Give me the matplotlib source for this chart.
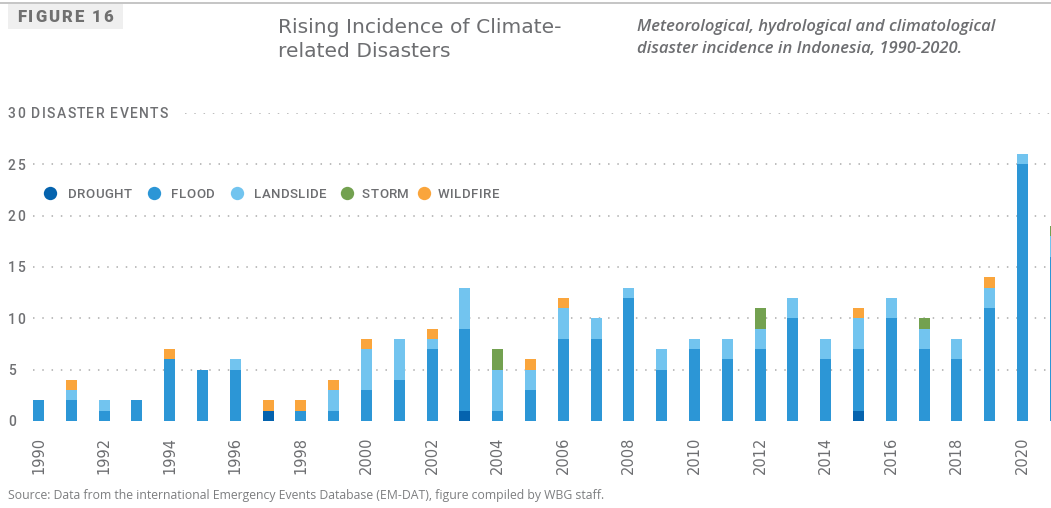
import matplotlib
matplotlib.use("Agg")
import matplotlib.pyplot as plt
from matplotlib.lines import Line2D
from matplotlib.patches import Rectangle
from matplotlib.font_manager import FontProperties, findfont
from matplotlib.ft2font import FT2Font, LoadFlags

# Disaster events per year, Indonesia (EM-DAT)
years = list(range(1990, 2022))
drought = [0, 0, 0, 0, 0, 0, 0, 1, 0, 0,
           0, 0, 0, 1, 0, 0, 0, 0, 0, 0,
           0, 0, 0, 0, 0, 1, 0, 0, 0, 0,
           0, 0]
flood = [2, 2, 1, 2, 6, 5, 5, 0, 1, 1,
         3, 4, 7, 8, 1, 3, 8, 8, 12, 5,
         7, 6, 7, 10, 6, 6, 10, 7, 6, 11,
         25, 16]
landslide = [0, 1, 1, 0, 0, 0, 1, 0, 0, 2,
             4, 4, 1, 4, 4, 2, 3, 2, 1, 2,
             1, 2, 2, 2, 2, 3, 2, 2, 2, 2,
             1, 2]
storm = [0, 0, 0, 0, 0, 0, 0, 0, 0, 0,
         0, 0, 0, 0, 2, 0, 0, 0, 0, 0,
         0, 0, 2, 0, 0, 0, 0, 1, 0, 0,
         0, 1]
wildfire = [0, 1, 0, 0, 1, 0, 0, 1, 1, 1,
            1, 0, 1, 0, 0, 1, 1, 0, 0, 0,
            0, 0, 0, 0, 0, 1, 0, 0, 0, 1,
            0, 0]

series_names = ["DROUGHT", "FLOOD", "LANDSLIDE", "STORM", "WILDFIRE"]
series_values = [drought, flood, landslide, storm, wildfire]
series_colors = ["#0563ae", "#2c96d6", "#72c4ef", "#73a150", "#faa53c"]

y_ticks = [0, 5, 10, 15, 20, 25, 30]
x_ticks = list(range(1990, 2021, 2))

W, H, DPI = 1051, 508, 100
TEXT = "#6d6e71"
GRID = "#bdbdbd"

fig = plt.figure(figsize=(W / DPI, H / DPI), dpi=DPI)
fig.patch.set_facecolor("white")


def fx(px):
    return px / W


def fy(py):
    return 1 - py / H


def tracked_text(x, y, s, size, track, family="Roboto", weight="normal",
                 style="normal", color=TEXT):
    """Draw s with extra letter spacing; x, y are pixel coords (y = baseline)."""
    prop = FontProperties(family=family, weight=weight, style=style, size=size)
    font = FT2Font(findfont(prop), hinting_factor=1)
    font.set_size(size, DPI)
    pos = x
    for ch in s:
        if ch != " ":
            fig.text(fx(pos), fy(y), ch, fontproperties=prop, color=color,
                     ha="left", va="baseline")
        g = font.load_char(ord(ch), flags=LoadFlags.NO_HINTING)
        pos += g.linearHoriAdvance / 65536 + track
    return pos


# plotting area: pixel x 33..1051, y 421 (value 0) .. 113 (value 30)
ax = fig.add_axes([fx(33), fy(421), fx(1051) - fx(33), fy(113) - fy(421)])
ax.set_xlim(1989.832, 2020.872)
ax.set_ylim(0, 30)
for sp in ax.spines.values():
    sp.set_visible(False)
ax.set_yticks([])

# dotted gridlines
for v in y_ticks[1:]:
    xmin = 0.149 if v == 30 else 0.0
    ax.axhline(v, xmin=xmin, xmax=1, color=GRID, lw=1.4,
               linestyle=(0, (0.77, 4.0)), dash_capstyle="butt", zorder=0)

# stacked bars
bottom = [0] * len(years)
for name, vals, col in zip(series_names, series_values, series_colors):
    ax.bar(years, vals, width=0.335, bottom=bottom, color=col,
           linewidth=0, zorder=2)
    bottom = [b + v for b, v in zip(bottom, vals)]

ax.set_xticks(x_ticks)
ax.set_xticklabels([str(y) for y in x_ticks], rotation=90,
                   fontfamily="DejaVu Sans", fontsize=10.5, color=TEXT)
ax.tick_params(axis="x", length=0, pad=11.5)

# y labels
for v in y_ticks:
    py = 421 - v * (308 / 30)
    label = "30 DISASTER EVENTS" if v == 30 else str(v)
    tracked_text(8, py + 5.2, label, 10, 1.25, weight="medium", color="#6f7073")

# legend
legend_marks = [50, 154, 237, 347, 424]
legend_text = [68, 171, 254, 362, 438]
for name, col, mx, tx in zip(series_names, series_colors, legend_marks, legend_text):
    fig.add_artist(Line2D([fx(mx)], [fy(193)], marker="o", markersize=9.6,
                          markerfacecolor=col, markeredgewidth=0,
                          linestyle="none", transform=fig.transFigure))
    tracked_text(tx, 198.3, name, 9.5, 0.6, weight="medium")

# header rule and figure tag
fig.add_artist(Line2D([0, 1], [fy(2.5), fy(2.5)], color="#b5b5b5", lw=1.1,
                      transform=fig.transFigure))
fig.add_artist(Rectangle((fx(8), fy(29)), fx(123) - fx(8), fy(4) - fy(29),
                         facecolor="#efefef", edgecolor="none",
                         transform=fig.transFigure))
tracked_text(17, 22, "FIGURE 16", 12, 1.8, weight="heavy", color="#707070")

# title
fig.text(fx(278), fy(33.3), "Rising Incidence of Climate-", family="DejaVu Sans",
         fontsize=14.6, color=TEXT, va="baseline", ha="left")
fig.text(fx(278), fy(56.7), "related Disasters", family="DejaVu Sans",
         fontsize=14.6, color=TEXT, va="baseline", ha="left")

# subtitle
fig.text(fx(637), fy(30.7), "Meteorological, hydrological and climatological",
         family="Open Sans", fontsize=12.0, style="italic", weight="semibold",
         color=TEXT, va="baseline", ha="left")
fig.text(fx(637), fy(53.3), "disaster incidence in Indonesia, 1990-2020.",
         family="Open Sans", fontsize=12.0, style="italic", weight="semibold",
         color=TEXT, va="baseline", ha="left")

# source note
fig.text(fx(8), fy(499), "Source: Data from the international Emergency Events "
         "Database (EM-DAT), figure compiled by WBG staff.",
         family="Open Sans", fontsize=8.85, color="#7d7e80", va="baseline", ha="left")

fig.savefig("out.png", dpi=DPI, facecolor="white")
